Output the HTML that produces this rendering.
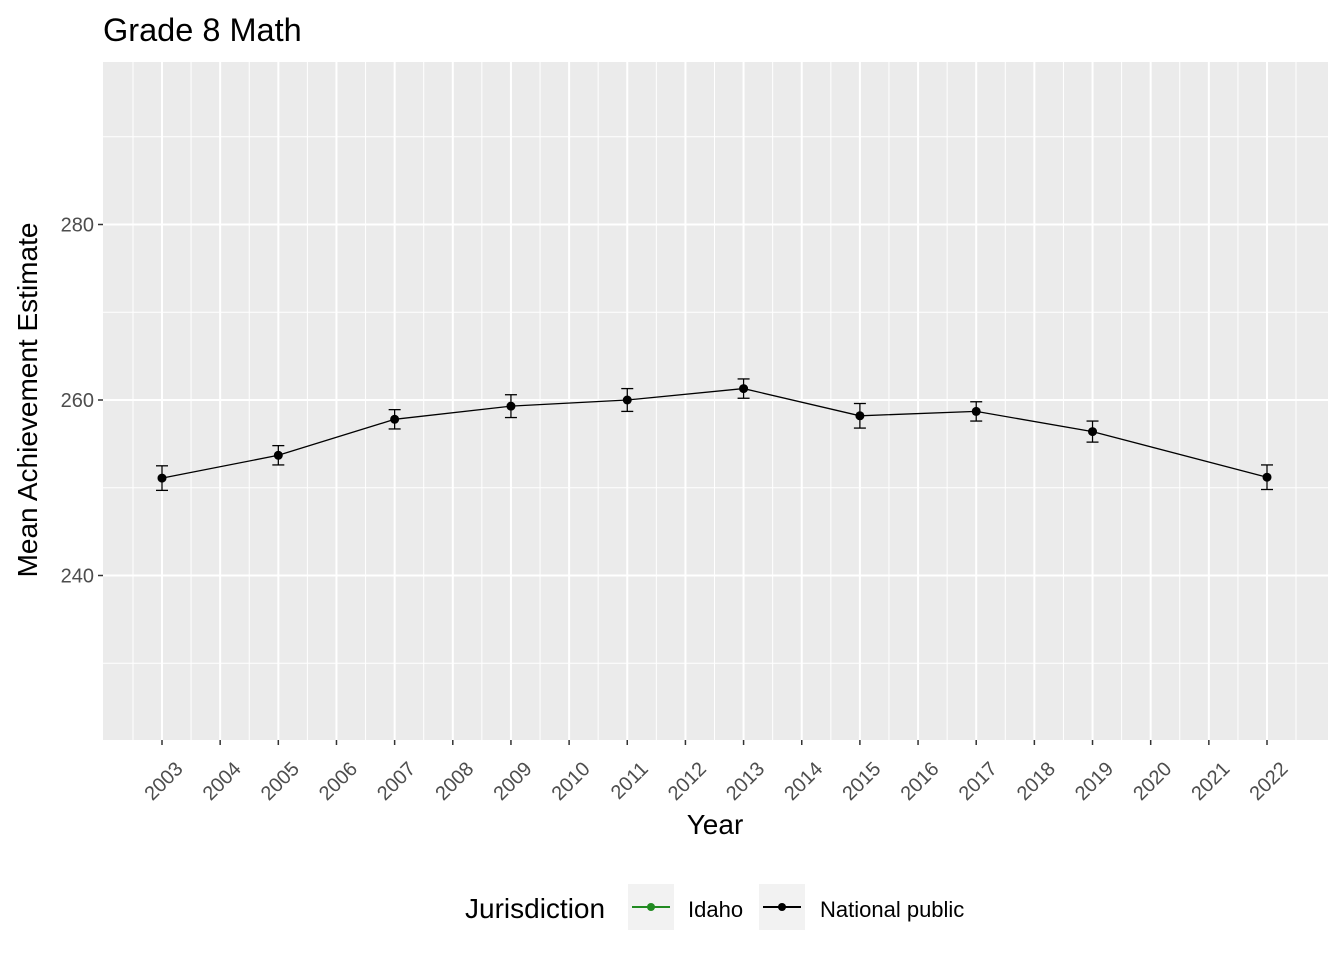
<!DOCTYPE html>
<html><head><meta charset="utf-8"><style>
body{margin:0;background:#fff;}
svg{display:block;font-family:"Liberation Sans",Arial,sans-serif;}
</style></head><body>
<svg id="chart" width="1344" height="960">
<text x="103" y="41" font-size="32.5" fill="#000">Grade 8 Math</text>
<rect x="103" y="62" width="1225" height="678" fill="#ebebeb"/>
<g id="grid"></g>
<g id="marks"></g>
<g id="axes"></g>
<text x="715" y="834" font-size="28" text-anchor="middle">Year</text>
<text transform="translate(37,400) rotate(-90)" font-size="28" text-anchor="middle">Mean Achievement Estimate</text>
<g>
<text x="465" y="918" font-size="28">Jurisdiction</text>
<g>
<rect x="628" y="884" width="46" height="46" fill="#f2f2f2"/>
<line x1="632" y1="907" x2="670" y2="907" stroke="#228b22" stroke-width="2"/>
<circle cx="651" cy="907" r="4" fill="#228b22"/>
<text x="688" y="917" font-size="22">Idaho</text>
</g>
<g>
<rect x="759" y="884" width="46" height="46" fill="#f2f2f2"/>
<line x1="763" y1="907" x2="801" y2="907" stroke="#000" stroke-width="2"/>
<circle cx="782" cy="907" r="4" fill="#000"/>
<text x="820" y="917" font-size="22">National public</text>
</g>
</g>
</svg>
<script>
const years=[2003,2004,2005,2006,2007,2008,2009,2010,2011,2012,2013,2014,2015,2016,2017,2018,2019,2020,2021,2022];
const dataYears=[2003,2005,2007,2009,2011,2013,2015,2017,2019,2022];
const values=[251.1,253.7,257.8,259.3,260.0,261.3,258.2,258.7,256.4,251.2];
const errors=[1.4,1.1,1.1,1.3,1.3,1.1,1.4,1.1,1.2,1.4];
const yTicks=[240,260,280];
const yMinor=[230,250,270,290];
const NS='http://www.w3.org/2000/svg';
const x0=103,x1=1328,y0=62,y1=740;
const xs=v=>162+(v-2003)*(1267-162)/19;
const ys=v=>400-(v-260)*175.5/20;
function mk(tag,attrs,parent){const e=document.createElementNS(NS,tag);for(const k in attrs)e.setAttribute(k,attrs[k]);parent.appendChild(e);return e;}
const grid=document.getElementById('grid'),marks=document.getElementById('marks'),axes=document.getElementById('axes');
yMinor.forEach(v=>{const l=mk('line',{x1:x0,x2:x1,y1:ys(v),y2:ys(v),stroke:'#fff','stroke-width':1},grid);

});
for(let i=0;i<years.length-1;i++){const xm=(xs(years[i])+xs(years[i+1]))/2;const l=mk('line',{x1:xm,x2:xm,y1:y0,y2:y1,stroke:'#fff','stroke-width':1},grid);

}
mk('line',{x1:xs(years[0])-29,x2:xs(years[0])-29,y1:y0,y2:y1,stroke:'#fff','stroke-width':1},grid);
mk('line',{x1:xs(2022)+29,x2:xs(2022)+29,y1:y0,y2:y1,stroke:'#fff','stroke-width':1},grid);
yTicks.forEach(v=>{const y=ys(v);const l=mk('line',{x1:x0,x2:x1,y1:y,y2:y,stroke:'#fff','stroke-width':2},grid);


mk('line',{x1:x0-5,x2:x0,y1:y,y2:y,stroke:'#333','stroke-width':1.5},axes);
const t=mk('text',{x:x0-9,y:y+7,'font-size':20,'text-anchor':'end',fill:'#4d4d4d'},axes);t.textContent=v;

});
years.forEach(yr=>{const x=xs(yr);const l=mk('line',{x1:x,x2:x,y1:y0,y2:y1,stroke:'#fff','stroke-width':2},grid);


mk('line',{x1:x,x2:x,y1:y1,y2:y1+5,stroke:'#333','stroke-width':1.5},axes);
const t=mk('text',{transform:`translate(${x+22},${y1+30}) rotate(-45)`,'font-size':20,'text-anchor':'end',fill:'#4d4d4d'},axes);t.textContent=yr;

});
const pts=dataYears.map((yr,i)=>xs(yr)+','+ys(values[i])).join(' ');
const pl=mk('polyline',{points:pts,fill:'none',stroke:'#000','stroke-width':1.3},marks);


dataYears.forEach((yr,i)=>{const x=xs(yr),yt=ys(values[i]+errors[i]),yb=ys(values[i]-errors[i]);
const g=mk('g',{},marks);


mk('line',{x1:x,x2:x,y1:yt,y2:yb,stroke:'#000','stroke-width':1.3},g);
mk('line',{x1:x-6,x2:x+6,y1:yt,y2:yt,stroke:'#000','stroke-width':1.3},g);
mk('line',{x1:x-6,x2:x+6,y1:yb,y2:yb,stroke:'#000','stroke-width':1.3},g);
const c=mk('circle',{cx:x,cy:ys(values[i]),r:4.5,fill:'#000'},marks);

});
</script>
</body></html>
